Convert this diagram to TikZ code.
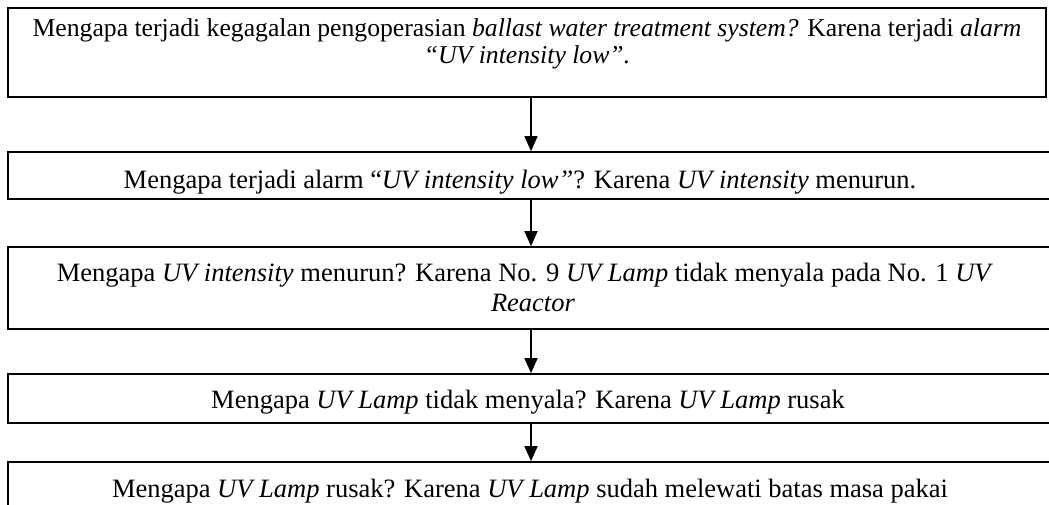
\documentclass[tikz,border=0pt]{standalone}
\usepackage{fontspec}
\setmainfont{Liberation Serif}
\usetikzlibrary{arrows.meta}
\begin{document}
\begin{tikzpicture}[x=1pt,y=-1pt,
  boxnode/.style={draw=black,line width=1.6pt,rectangle,inner sep=0pt},
  txt/.style={anchor=base,inner sep=0pt,font=\fontsize{26.5}{30}\selectfont},
  txtA/.style={anchor=base,inner sep=0pt,font=\fontsize{25.7}{30}\selectfont},
  arr/.style={line width=1.4pt,-{Triangle[width=13pt,length=15pt]}}]
\useasboundingbox (0,0) rectangle (1049,504);
\clip (0,0) rectangle (1049,504);
\node[boxnode,minimum width=1038pt,minimum height=89pt] (b1) at (527,52.5) {};
\node[boxnode,minimum width=1062pt,minimum height=47pt] (b2) at (539,175.5) {};
\node[boxnode,minimum width=1062pt,minimum height=82pt] (b3) at (539,288) {};
\node[boxnode,minimum width=1062pt,minimum height=49pt] (b4) at (539,398.5) {};
\node[boxnode,minimum width=1062pt,minimum height=80pt] (b5) at (539,502) {};
\node[txtA] (t1a) at (527,36) {Mengapa terjadi kegagalan pengoperasian \textit{ballast water treatment system?} Karena terjadi \textit{alarm}};
\node[txtA] (t1b) at (527,63) {\textit{“UV intensity low”.}};
\node[txt] (t2) at (520,188) {Mengapa terjadi alarm “\textit{UV intensity low”}? Karena \textit{UV intensity} menurun.};
\node[txt] (t3a) at (525,281) {Mengapa \textit{UV intensity} menurun? Karena No. 9 \textit{UV Lamp} tidak menyala pada No. 1 \textit{UV}};
\node[txt] (t3b) at (533,311) {\textit{Reactor}};
\node[txt] (t4) at (528,408) {Mengapa \textit{UV Lamp} tidak menyala? Karena \textit{UV Lamp} rusak};
\node[txt] (t5) at (530,497) {Mengapa \textit{UV Lamp} rusak? Karena \textit{UV Lamp} sudah melewati batas masa pakai};
\coordinate (ax) at (531,0);
\draw[arr] (b1.south -| ax) -- (b2.north -| ax);
\draw[arr] (b2.south -| ax) -- (b3.north -| ax);
\draw[arr] (b3.south -| ax) -- (b4.north -| ax);
\draw[arr] (b4.south -| ax) -- (b5.north -| ax);
\end{tikzpicture}
\end{document}
